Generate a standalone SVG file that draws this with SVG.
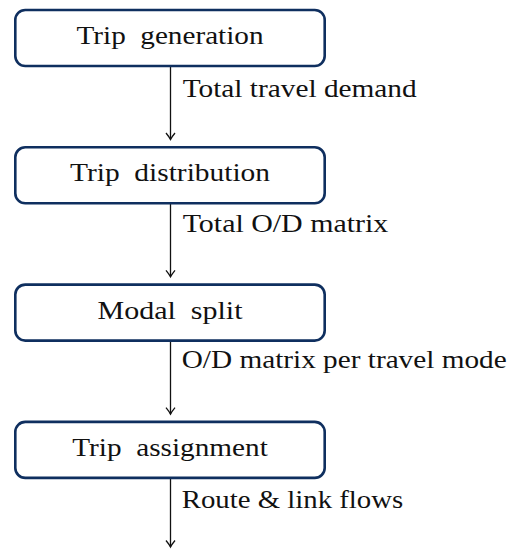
<svg xmlns="http://www.w3.org/2000/svg" width="521" height="549" viewBox="0 0 521 549">
<style>
.box{fill:#fff;stroke:#0f2f5f;stroke-width:2.6}
.t{font-family:"Liberation Serif","Times New Roman",serif;font-size:26px;fill:#111}
.c{text-anchor:middle;white-space:pre}
.edge{stroke:#111;stroke-width:1.3;fill:none}
</style>
<rect width="521" height="549" fill="#fff"/>
<g id="connectors">
<line class="edge" x1="170.5" y1="66" x2="170.5" y2="139.5"/>
<path d="M 166 133 Q 169.3 137 170.5 139.5 Q 171.7 137 175 133" class="edge"/>
<text class="t" x="182.7" y="96.7" textLength="234" lengthAdjust="spacingAndGlyphs">Total travel demand</text>
<line class="edge" x1="170.5" y1="203.3" x2="170.5" y2="276.8"/>
<path d="M 166 270.3 Q 169.3 274.3 170.5 276.8 Q 171.7 274.3 175 270.3" class="edge"/>
<text class="t" x="182.7" y="231.7" textLength="205.6" lengthAdjust="spacingAndGlyphs">Total O/D matrix</text>
<line class="edge" x1="170.5" y1="340.6" x2="170.5" y2="414.1"/>
<path d="M 166 407.6 Q 169.3 411.6 170.5 414.1 Q 171.7 411.6 175 407.6" class="edge"/>
<text class="t" x="181.7" y="368.3" textLength="325" lengthAdjust="spacingAndGlyphs">O/D matrix per travel mode</text>
<line class="edge" x1="170.5" y1="477.9" x2="170.5" y2="547"/>
<path d="M 166 540.5 Q 169.3 544.5 170.5 547 Q 171.7 544.5 175 540.5" class="edge"/>
<text class="t" x="181.7" y="508.3" textLength="221.6" lengthAdjust="spacingAndGlyphs">Route &amp; link flows</text>
</g>
<g id="trip-generation">
<rect class="box" x="15.3" y="10" width="309.4" height="56" rx="10" ry="10"/>
<text class="t c" xml:space="preserve" x="170" y="44.3" textLength="187" lengthAdjust="spacingAndGlyphs">Trip  generation</text>
</g>
<g id="trip-distribution">
<rect class="box" x="15.3" y="147.3" width="309.4" height="56" rx="10" ry="10"/>
<text class="t c" xml:space="preserve" x="170" y="181.3" textLength="200" lengthAdjust="spacingAndGlyphs">Trip  distribution</text>
</g>
<g id="modal-split">
<rect class="box" x="15.3" y="284.6" width="309.4" height="56" rx="10" ry="10"/>
<text class="t c" xml:space="preserve" x="170" y="319" textLength="145" lengthAdjust="spacingAndGlyphs">Modal  split</text>
</g>
<g id="trip-assignment">
<rect class="box" x="15.3" y="421.9" width="309.4" height="56" rx="10" ry="10"/>
<text class="t c" xml:space="preserve" x="170" y="455.6" textLength="195.6" lengthAdjust="spacingAndGlyphs">Trip  assignment</text>
</g>
</svg>
